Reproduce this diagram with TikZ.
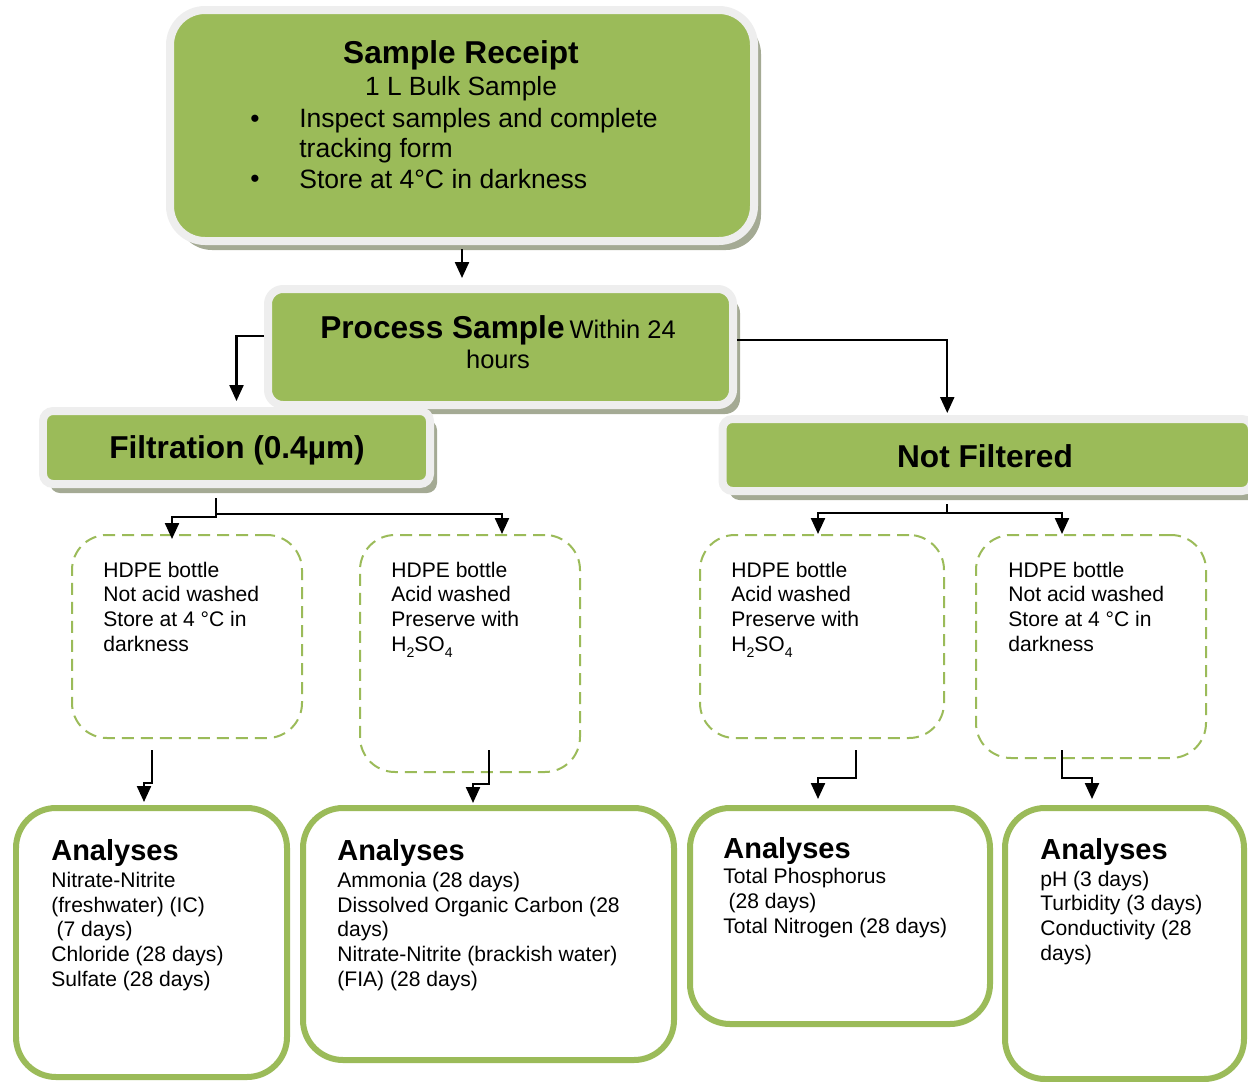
\documentclass[tikz,border=0pt]{standalone}
\usepackage{fontspec}
\setmainfont{Liberation Sans}
\usetikzlibrary{arrows.meta,fit,shadows,positioning}

\definecolor{boxgreen}{HTML}{9BBB59}
\definecolor{boxrim}{HTML}{EEEEEE}
\definecolor{boxshade}{HTML}{A4AA94}

\newcommand{\lowsub}[1]{\raisebox{-0.32em}{\fontsize{8}{8}\selectfont #1}}

\begin{document}
\begin{tikzpicture}[x=0.02cm,y=-0.02cm,
    greenbox/.style={draw=boxrim, line width=0.16cm, fill=boxgreen, inner sep=0pt,
        drop shadow={shadow xshift=0.14cm, shadow yshift=-0.18cm, fill=boxshade, opacity=1}},
    dashbox/.style={draw=boxgreen, line width=0.04cm, dash pattern=on 0.24cm off 0.14cm,
        rounded corners=0.7cm, inner sep=0pt},
    anabox/.style={draw=boxgreen, line width=0.12cm, rounded corners=0.8cm, inner sep=0pt},
    conn/.style={line width=1.3pt, -{Triangle[length=0.32cm,width=0.28cm]}},
    link/.style={line width=1.3pt},
    small/.style={anchor=base west, align=left, inner sep=0pt, font=\fontsize{12}{14}\selectfont},
    head/.style={anchor=base west, inner sep=0pt, font=\bfseries\fontsize{16.5}{19}\selectfont},
    title/.style={anchor=base, font=\bfseries\fontsize{18}{21}\selectfont}]

        \useasboundingbox (0,0) rectangle (1248,1082);

        %%receipt
        \node[greenbox, rounded corners=0.7cm, fit={(170,10) (754,241)}] (receipt) {};
            \node[title] (rtitle) at (461,63) {Sample Receipt};
            \node[anchor=base, font=\fontsize{15}{18}\selectfont] (rsub) at (461,95) {1 L Bulk Sample};
            \node[anchor=base, font=\fontsize{15}{18}\selectfont] (bul1) at (255,127) {•};
            \node[anchor=base, font=\fontsize{15}{18}\selectfont] (bul2) at (255,187) {•};
            \node[anchor=base west, align=left, inner sep=0pt, font=\fontsize{15.1}{17.3}\selectfont] (rlist) at (299,188)
                {Inspect samples and complete\\tracking form\\Store at 4°C in darkness};

        %%process
        \node[greenbox, rounded corners=0.3cm, fit={(268,289) (733,405)}] (process) {};
            \node[anchor=base] (ptop) at (498,338)
                {{\bfseries\fontsize{18}{21}\selectfont Process Sample} {\fontsize{14.5}{17}\selectfont Within 24}};
            \node[anchor=base, font=\fontsize{14.5}{17}\selectfont] (pbot) at (498,368) {hours};

        %%filtration
        \node[greenbox, rounded corners=0.2cm, fit={(43,411) (430,484)}] (filtration) {};
            \node[title] (ftext) at (237,458) {Filtration (0.4µm)};

        %%not filtered
        \node[greenbox, rounded corners=0.2cm, fit={(722.5,419) (1252,491)}] (notfilt) {};
            \node[title] (ntext) at (985,467) {Not Filtered};

        %%bottles
        \node[dashbox, fit={(72,535) (302,738)}] (d1) {};
            \node[small] (d1text) at (103,651) {HDPE bottle\\Not acid washed\\Store at 4 °C in\\darkness};
        \node[dashbox, fit={(360,535) (580,772)}] (d2) {};
            \node[small] (d2text) at (391,651) {HDPE bottle\\Acid washed\\Preserve with\\H\lowsub{2}SO\lowsub{4}};
        \node[dashbox, fit={(700,535) (944,738)}] (d3) {};
            \node[small] (d3text) at (731,651) {HDPE bottle\\Acid washed\\Preserve with\\H\lowsub{2}SO\lowsub{4}};
        \node[dashbox, fit={(976,535) (1206,758)}] (d4) {};
            \node[small] (d4text) at (1008,651) {HDPE bottle\\Not acid washed\\Store at 4 °C in\\darkness};

        %%analyses
        \node[anabox, fit={(16,808) (287,1077)}] (a1) {};
            \node[head] (a1head) at (51,860) {Analyses};
            \node[small] (a1text) at (51,986)
                {Nitrate-Nitrite\\(freshwater) (IC)\\\hspace*{3pt}(7 days)\\Chloride (28 days)\\Sulfate (28 days)};
        \node[anabox, fit={(303,808) (674,1060)}] (a2) {};
            \node[head] (a2head) at (337,860) {Analyses};
            \node[small] (a2text) at (337,986)
                {Ammonia (28 days)\\Dissolved Organic Carbon (28\\days)\\Nitrate-Nitrite (brackish water)\\(FIA) (28 days)};
        \node[anabox, fit={(690,808) (990,1024)}] (a3) {};
            \node[head] (a3head) at (723,858) {Analyses};
            \node[small] (a3text) at (723,933)
                {Total Phosphorus\\\hspace*{3pt}(28 days)\\Total Nitrogen (28 days)};
        \node[anabox, fit={(1005,808) (1244,1079)}] (a4) {};
            \node[head] (a4head) at (1040,859) {Analyses};
            \node[small] (a4text) at (1040,960)
                {pH (3 days)\\Turbidity (3 days)\\Conductivity (28\\days)};

        %%links
        \draw[conn, shorten <=0.08cm, shorten >=0.14cm] (receipt.south) -- (receipt.south |- process.north);
        \draw[conn, shorten >=0.12cm] ([yshift=0.22cm]process.west) -| (filtration.north);
        \draw[conn, shorten >=0.04cm] ([yshift=0.14cm]process.east) -| ([xshift=-0.8cm]notfilt.north);

        \coordinate (fsplit) at (216,514);
        \draw[link, shorten <=0.2cm] (filtration.south -| fsplit) -- (fsplit);
        \draw[conn] (fsplit) -- ++(0,3) -| ([xshift=-0.3cm,yshift=-0.1cm]d1.north);
        \draw[conn] (fsplit) -| ([xshift=0.64cm]d2.north);

        \coordinate (nsplit) at (947,513);
        \draw[link, shorten <=0.18cm] (notfilt.south -| nsplit) -- (nsplit);
        \draw[conn] (nsplit) -| ([xshift=-0.08cm]d3.north);
        \draw[conn] (nsplit) -| ([xshift=-0.58cm]d4.north);

        \draw[conn, shorten <=0.22cm, shorten >=0.06cm] ([xshift=-0.7cm]d1.south) -- ++(0,44) -| ([xshift=-0.15cm]a1.north);
        \draw[conn, shorten >=0.04cm] ([xshift=0.38cm,yshift=0.46cm]d2.south) -- ++(0,34) -| ([xshift=-0.31cm]a2.north);
        \draw[conn, shorten <=0.22cm, shorten >=0.12cm] ([xshift=0.68cm]d3.south) -- ++(0,39) -| ([xshift=-0.44cm]a3.north);
        \draw[conn, shorten >=0.12cm] ([xshift=-0.58cm,yshift=0.18cm]d4.south) -- ++(0,28) -| ([xshift=-0.65cm]a4.north);
\end{tikzpicture}
\end{document}
